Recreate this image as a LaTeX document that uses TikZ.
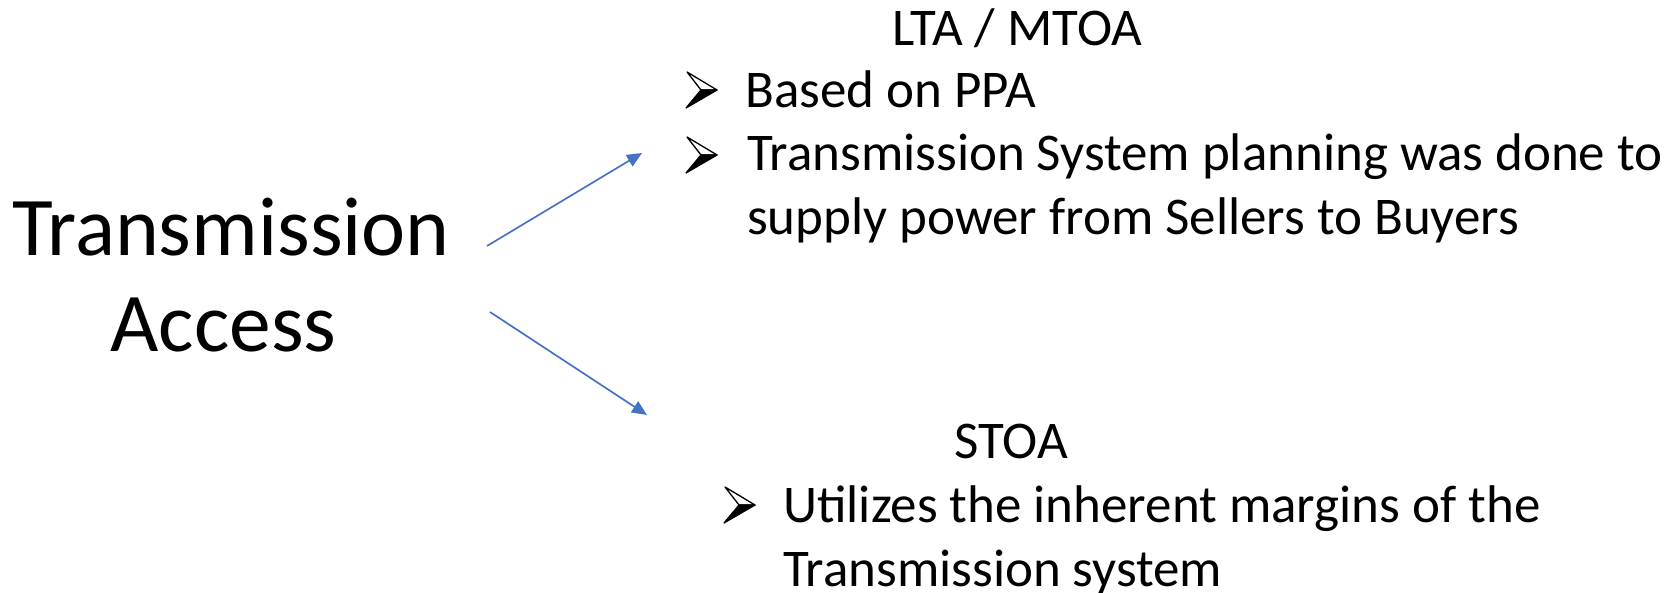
\documentclass[tikz,border=0pt]{standalone}
\usepackage{fontspec}
\setmainfont{Carlito}
\usetikzlibrary{arrows.meta}
\definecolor{arrowblue}{RGB}{68,114,196}
\tikzset{
  smalltxt/.style={inner sep=0pt, anchor=base west, font=\fontsize{53}{64}\selectfont, align=left},
  bigtxt/.style={inner sep=0pt, font=\fontsize{83.5}{96}\selectfont, align=center},
  conn/.style={draw=arrowblue, line width=1.7pt, -{Triangle[length=15pt,width=13pt]}},
  wbullet/.pic={
    \filldraw[fill=white, line width=1.3pt, line join=round] (0,0) -- (-30,-18) -- (-16,0) -- cycle;
    \filldraw[fill=black, line width=1.3pt, line join=round] (0,0) -- (-16,0) -- (-31,18) -- cycle;
  }
}
\begin{document}
\begin{tikzpicture}[x=1pt,y=-1pt]
\useasboundingbox (0,0) rectangle (1672,593);
% main label (anchor is the baseline of its last line)
\node[bigtxt, anchor=base] (ta) at (231,352) {Transmission\\Access\hspace*{15pt}};
% LTA / MTOA block
\node[smalltxt] (lta) at (892,46) {LTA / MTOA};
\pic at (717,90) {wbullet};
\node[smalltxt] (b1) at (745,108) {Based on PPA};
\pic at (717,155) {wbullet};
\node[smalltxt] (b2) at (747,235) {Transmission System planning was done to\\supply power from Sellers to Buyers};
% STOA block
\node[smalltxt] (stoa) at (954,458) {STOA};
\pic at (755,505) {wbullet};
\node[smalltxt] (b3) at (783,586) {Utilizes the inherent margins of the\\Transmission system};
% connectors
\coordinate (s1) at (487,246);
\coordinate (e1) at (642,153);
\coordinate (s2) at (490,312);
\coordinate (e2) at (647,415);
\draw[conn] (s1) -- (e1);
\draw[conn] (s2) -- (e2);
\end{tikzpicture}
\end{document}
